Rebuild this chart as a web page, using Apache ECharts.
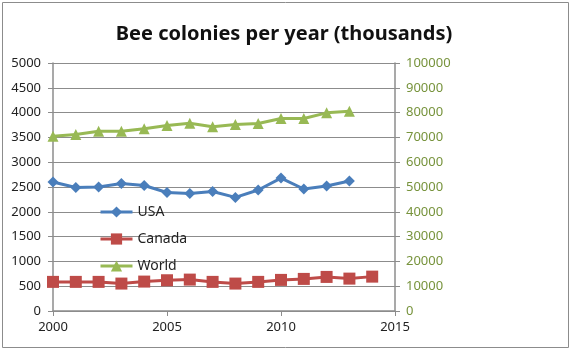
<!DOCTYPE html>
<html>
<head>
    <meta charset="utf-8">
    <title>Bee colonies</title>
    <script type="text/javascript" src="https://cdn.jsdelivr.net/npm/echarts@6/dist/echarts.min.js"></script>
    <style>
        html, body { margin: 0; padding: 0; background: #fff; }
        #mychat { width: 571px; height: 350px; }
    </style>
</head>
<body>
<div id="mychat"></div>
<script>
    // data
    var years = [2000, 2001, 2002, 2003, 2004, 2005, 2006, 2007, 2008, 2009, 2010, 2011, 2012, 2013, 2014];
    var usa = [2600, 2490, 2500, 2570, 2530, 2390, 2370, 2410, 2290, 2440, 2680, 2460, 2520, 2620];
    var canada = [587, 587, 587, 553, 593, 620, 633, 587, 553, 587, 627, 647, 687, 653, 693];
    var world = [70500, 71200, 72500, 72500, 73500, 74800, 75700, 74300, 75200, 75600, 77600, 77600, 79900, 80500];

    function pairs(vals) {
        let out = [];
        for (let i = 0; i < vals.length; i++) {
            out.push([years[i], vals[i]]);
        }
        return out;
    }

    var font = 'Noto Sans';
    var plain = function (v) { return String(v); };
    var myChart = echarts.init(document.getElementById('mychat'));
    var option = {
        animation: false,
        title: {
            text: 'Bee colonies per year (thousands)',
            left: 279,
            textAlign: 'center',
            top: 19,
            textStyle: { fontFamily: font, fontSize: 20, fontWeight: 'bold', color: '#111' }
        },
        graphic: [{
            type: 'rect',
            shape: { x: 2.5, y: 2.5, width: 566, height: 345 },
            style: { fill: 'none', stroke: '#8c8c8c', lineWidth: 1 }
        }],
        legend: {
            orient: 'vertical',
            left: 94,
            top: 200,
            itemWidth: 32,
            itemHeight: 14,
            itemGap: 13,
            lineStyle: { width: 3 },
            textStyle: { fontFamily: font, fontSize: 14, color: '#222' },
            data: ['USA', 'Canada', 'World']
        },
        grid: { left: 53, right: 176, top: 63, bottom: 39 },
        xAxis: {
            type: 'value',
            min: 2000,
            max: 2015,
            interval: 5,
            axisLine: { lineStyle: { color: '#8c8c8c', width: 1.5 } },
            axisTick: { show: true, length: 5, lineStyle: { color: '#8c8c8c' } },
            axisLabel: { fontFamily: font, fontSize: 13, color: '#222', margin: 10, formatter: plain },
            splitLine: { show: false }
        },
        yAxis: [{
            type: 'value',
            min: 0,
            max: 5000,
            interval: 500,
            axisLine: { show: true, lineStyle: { color: '#8c8c8c', width: 1.5 } },
            axisTick: { show: true, length: 5, lineStyle: { color: '#8c8c8c' } },
            axisLabel: { fontFamily: font, fontSize: 13, color: '#222', margin: 12, formatter: plain },
            splitLine: { lineStyle: { color: '#8c8c8c', width: 1 } }
        }, {
            type: 'value',
            min: 0,
            max: 100000,
            interval: 10000,
            position: 'right',
            axisLine: { show: true, lineStyle: { color: '#8c8c8c', width: 1.5 } },
            axisTick: { show: true, length: 5, lineStyle: { color: '#8c8c8c' } },
            axisLabel: { fontFamily: font, fontSize: 13, color: '#77933c', margin: 11, formatter: plain },
            splitLine: { show: false }
        }],
        series: [{
            name: 'USA',
            type: 'line',
            data: pairs(usa),
            symbol: 'diamond',
            symbolSize: 11,
            itemStyle: { color: '#4a7ebb' },
            lineStyle: { width: 3, color: '#4a7ebb' }
        }, {
            name: 'Canada',
            type: 'line',
            data: pairs(canada),
            symbol: 'rect',
            symbolSize: 12,
            itemStyle: { color: '#be4b48' },
            lineStyle: { width: 3, color: '#be4b48' }
        }, {
            name: 'World',
            type: 'line',
            yAxisIndex: 1,
            data: pairs(world),
            symbol: 'triangle',
            symbolSize: 11,
            itemStyle: { color: '#98b954' },
            lineStyle: { width: 3, color: '#98b954' }
        }]
    };
    myChart.setOption(option);
</script>
</body>
</html>
